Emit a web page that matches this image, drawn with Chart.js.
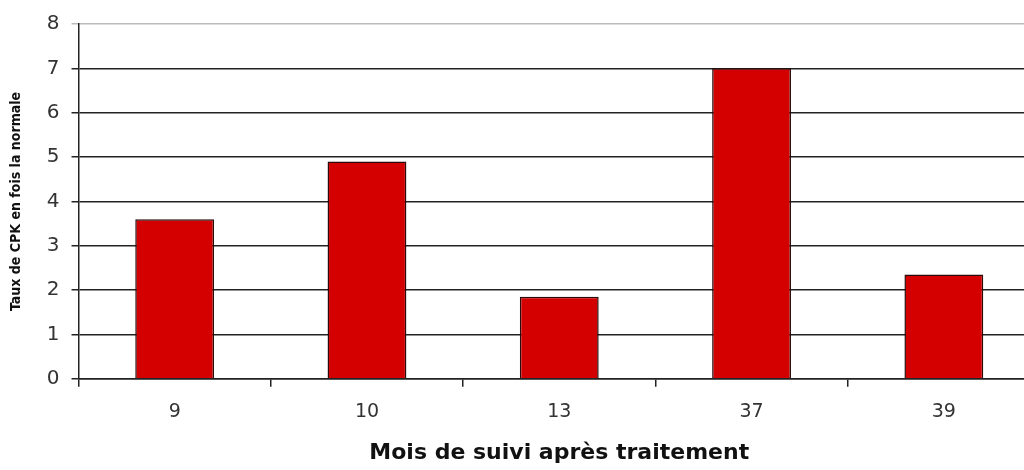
<!DOCTYPE html>
<html>
<head>
<meta charset="utf-8">
<script src="https://cdn.jsdelivr.net/npm/chart.js@4/dist/chart.umd.min.js"></script>
<style>
  html, body { margin: 0; padding: 0; background: #fff; overflow: hidden; }
  #wrap { width: 1024px; height: 470px; overflow: hidden; }
  #box { width: 1040px; height: 470px; }
</style>
</head>
<body>
<div id="wrap"><div id="box"><canvas id="cpkChart"></canvas></div></div>
<script>
// Mois de suivi / taux de CPK
const months = ['9', '10', '13', '37', '39'];
const cpkValues = [3.6, 4.9, 1.85, 7.0, 2.35];
const yTicks = [0, 1, 2, 3, 4, 5, 6, 7, 8];

const ctx = document.getElementById('cpkChart').getContext('2d');
new Chart(ctx, {
    type: 'bar',
    data: {
        labels: months,
        datasets: [{
            data: cpkValues,
            backgroundColor: '#d40000',
            borderColor: '#2a0a0a',
            borderWidth: 1.5,
            categoryPercentage: 1,
            barPercentage: 0.41
        }]
    },
    options: {
        responsive: true,
        maintainAspectRatio: false,
        animation: false,
        layout: { padding: { top: 14, left: 4, right: 0, bottom: 4 } },
        plugins: { legend: { display: false }, tooltip: { enabled: false } },
        scales: {
            x: {
                grid: {
                    offset: true,
                    drawOnChartArea: false,
                    color: '#222',
                    lineWidth: 1.5,
                    tickLength: 8
                },
                border: { color: '#222', width: 1.5 },
                ticks: { color: '#333', font: { family: 'DejaVu Sans', size: 19 }, padding: 14 },
                title: {
                    display: true,
                    text: 'Mois de suivi après traitement',
                    color: '#111',
                    font: { family: 'DejaVu Sans', size: 22, weight: 'bold' },
                    padding: { top: 2, bottom: 0 }
                }
            },
            y: {
                min: 0,
                max: 8,
                afterBuildTicks: function (scale) {
                    scale.ticks = yTicks.map(function (v) { return { value: v }; });
                },
                grid: {
                    color: function (c) { return c.tick && c.tick.value === 8 ? '#bbb' : '#222'; },
                    lineWidth: 1.5,
                    tickLength: 7
                },
                border: { color: '#222', width: 1.5 },
                ticks: { color: '#333', font: { family: 'DejaVu Sans', size: 20 }, padding: 12 },
                title: {
                    display: true,
                    text: 'Taux de CPK en fois la normale',
                    color: '#111',
                    font: { family: 'DejaVu Sans Condensed', size: 14, weight: 'bold' },
                    padding: { bottom: 10 }
                }
            }
        }
    }
});
</script>
</body>
</html>
